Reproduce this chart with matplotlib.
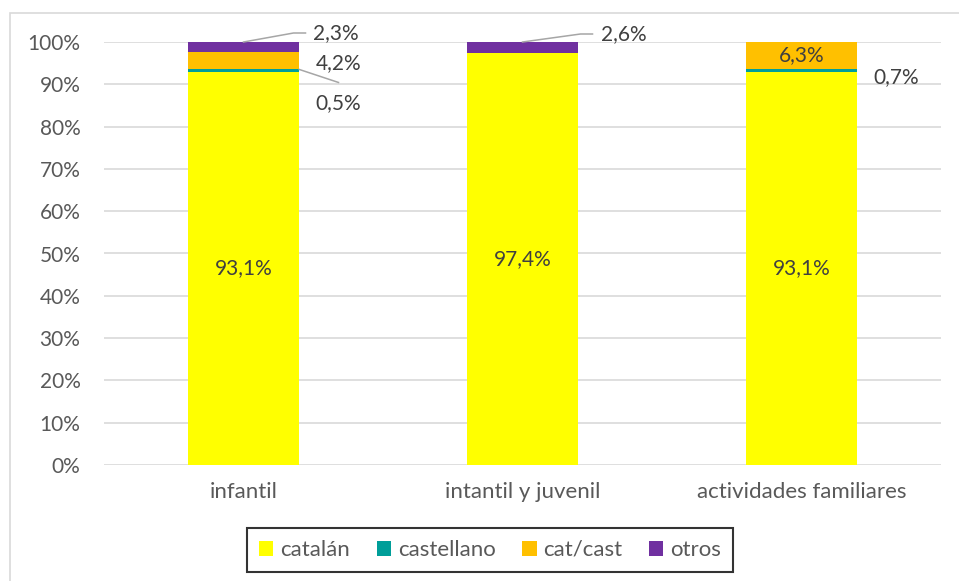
import matplotlib.pyplot as plt
import numpy as np
from matplotlib.patches import Rectangle

# Data
categories = ["infantil", "intantil y juvenil", "actividades familiares"]
series_names = ["catalán", "castellano", "cat/cast", "otros"]
catalan = [93.1, 97.4, 93.1]
castellano = [0.5, 0.0, 0.7]
cat_cast = [4.2, 0.0, 6.3]
otros = [2.3, 2.6, 0.0]
colors = ["#FFFF00", "#009E99", "#FFC000", "#7030A0"]

plt.rcParams['font.family'] = ['Lato', 'DejaVu Sans']
txt_color = "#595959"
fs = 15
fs_words = 16

fig = plt.figure(figsize=(9.59, 5.81), dpi=100)
W, H = 959, 581
ax = fig.add_axes([104 / W, 1 - 465 / H, (941 - 104) / W, (465 - 42) / H])

# outer chart frame
fig.patches.append(Rectangle((10 / W, -0.05), 1.2, 1 - 13 / H + 0.05,
                             transform=fig.transFigure, fill=False,
                             edgecolor="#d9d9d9", linewidth=1.2))

series = np.array([catalan, castellano, cat_cast, otros])
totals = series.sum(axis=0)
shares = series / totals * 100
x = np.arange(len(categories))
width = 0.4

bottoms = np.zeros(len(categories))
bars = []
for name, vals, col in zip(series_names, shares, colors):
    b = ax.bar(x, vals, width, bottom=bottoms, color=col, label=name, zorder=3)
    bars.append(b)
    bottoms = bottoms + vals

ax.set_xlim(-0.5, 2.5)
ax.set_ylim(0, 100)
ax.set_yticks(np.arange(0, 101, 10))
ax.set_yticklabels([f"{v}%" for v in range(0, 101, 10)])
ax.set_xticks(x)
ax.set_xticklabels(categories)
ax.tick_params(axis='both', length=0, labelcolor=txt_color)
ax.tick_params(axis='y', pad=17, labelsize=fs)
ax.tick_params(axis='x', pad=12, labelsize=fs_words)
ax.grid(axis='y', color="#d9d9d9", linewidth=1.2, zorder=0)
for s in ax.spines.values():
    s.set_visible(False)

def fmt(v):
    return f"{v:.1f}%".replace(".", ",")

# centred labels inside large segments
cum = np.cumsum(shares, axis=0)
for i in range(3):
    ax.text(x[i], shares[0][i] / 2, fmt(catalan[i]), ha='center', va='center',
            fontsize=fs, color="#404040", zorder=5)
ax.text(x[2], cum[1][2] + shares[2][2] / 2, fmt(cat_cast[2]), ha='center',
        va='center', fontsize=fs, color="#404040", zorder=5)

# outside labels with leader lines
def outside(anchor_x, anchor_y, tx, ty, text, knee=None):
    ax.text(tx, ty, text, ha='left', va='center', fontsize=fs,
            color="#404040", zorder=5, clip_on=False)
    if knee is not None:
        ax.plot([anchor_x, knee[0], knee[1]], [anchor_y, knee[2], knee[2]],
                color="#a6a6a6", lw=1.1, zorder=4, clip_on=False)

px = 3 / 837  # data units per pixel in x
py = 100 / 423
# infantil: otros
outside(x[0], cum[3][0], x[0] + 69 * px, cum[3][0] + 9 * py, fmt(otros[0]),
        knee=(x[0] + 50 * px, x[0] + 62 * px, cum[3][0] + 9 * py))
# infantil: cat/cast
outside(None, None, x[0] + 72 * px, 95.0, fmt(cat_cast[0]))
# infantil: castellano
ax.plot([x[0] + width / 2, x[0] + 95 * px], [cum[1][0], cum[1][0] - 13 * py],
        color="#a6a6a6", lw=1.1, zorder=4)
outside(None, None, x[0] + 72 * px, 85.6, fmt(castellano[0]))
# juvenil: otros
outside(x[1], cum[3][1], x[1] + 78 * px, cum[3][1] + 8 * py, fmt(otros[1]),
        knee=(x[1] + 58 * px, x[1] + 70 * px, cum[3][1] + 8 * py))
# familiares: castellano
outside(None, None, x[2] + 72 * px, 91.7, fmt(castellano[2]))

leg = fig.legend(handles=bars, labels=series_names, loc='center',
                 bbox_to_anchor=((247 + 733) / 2 / W, 1 - 550 / H), ncol=4,
                 frameon=True, fancybox=False, fontsize=fs_words,
                 handlelength=0.65, handleheight=0.65, handletextpad=0.3,
                 columnspacing=1.2, borderpad=0.55, borderaxespad=0)
leg.get_frame().set_edgecolor("black")
leg.get_frame().set_linewidth(1.5)
for t in leg.get_texts():
    t.set_color(txt_color)

fig.savefig("out.png", dpi=100)
